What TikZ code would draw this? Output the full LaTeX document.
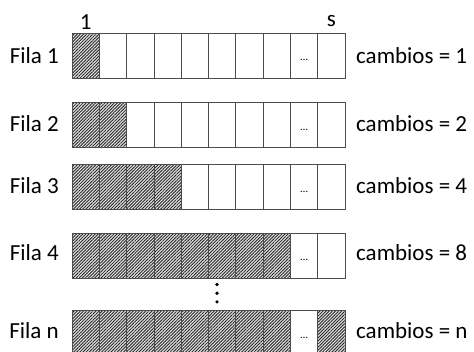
\documentclass[tikz,border=0pt]{standalone}
\usepackage{fontspec}
\setmainfont{Carlito}
\usetikzlibrary{patterns.meta}
\begin{document}
\begin{tikzpicture}[x=1pt,y=-1pt,
  cell/.style={draw=black!70, line width=0.8pt, minimum width=27.3pt,
    minimum height=45pt, inner sep=0pt, outer sep=0pt, anchor=north west},
  hatched/.style={cell, preaction={fill=black!12},
    pattern={Lines[angle=45,distance=2.2pt,line width=0.85pt]},
    pattern color=black!85},
  bigtext/.style={font=\fontsize{23}{27}\selectfont, inner sep=0pt},
  rowlabel/.style={bigtext, anchor=base east},
  countlabel/.style={bigtext, anchor=base west},
  collabel/.style={bigtext, anchor=base},
  ellipsis/.style={font=\fontsize{11}{12}\selectfont, inner sep=0pt, anchor=base},
  vdot/.style={fill=black}
]
\clip (0,0) rectangle (474,351);

% rows: name / top edge / number of hatched cells / last cell hatched / baseline of labels
\foreach \r/\top/\nh/\lastfill/\base/\cnt in
  {1/33.3/1/0/63.5/1, 2/102.7/2/0/131.5/2, 3/164.7/4/0/193.5/4,
   4/233.3/8/0/260.5/8, n/310.7/8/1/338.3/n} {
  \foreach \k in {0,...,9} {
    \pgfmathtruncatemacro\ishatch{(\k<\nh) || ((\k==9) && (\lastfill==1))}
    \ifnum\ishatch=1
      \node[hatched] (r\r c\k) at (72+27.3*\k, \top) {};
    \else
      \node[cell] (r\r c\k) at (72+27.3*\k, \top) {};
    \fi
  }
  \node[ellipsis] (dots\r) at ([yshift=-5pt]r\r c8.center) {\ldots};
  \node[rowlabel] (fila\r) at (59, \base) {Fila \r};
  \node[countlabel] (cambios\r) at (356, \base) {cambios = \cnt};
}

% column indices
\node[collabel] (first) at (85.65, 29) {1};
\node[collabel] (last) at (331.35, 26.7) {s};

% vertical ellipsis between row 4 and row n
\fill[vdot] (217, 284.5) circle (1.8);
\fill[vdot] (217, 293.2) circle (1.8);
\fill[vdot] (217, 301.8) circle (1.8);
\end{tikzpicture}
\end{document}
